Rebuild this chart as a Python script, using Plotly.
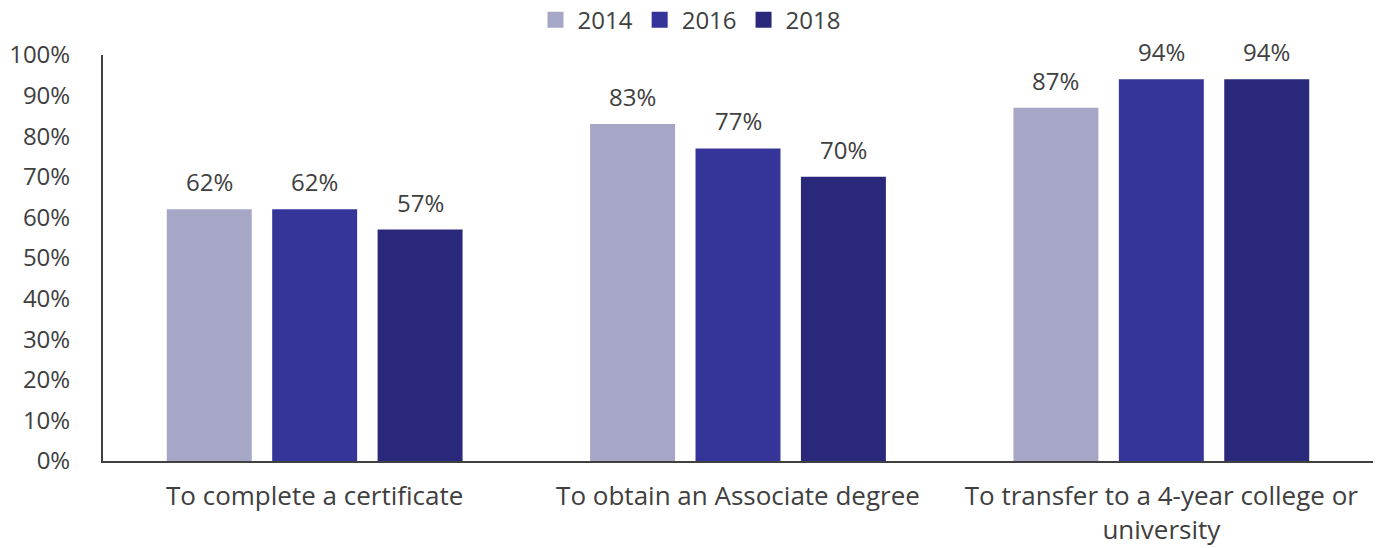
import plotly.graph_objects as go

# Survey responses by goal and year
categories = [
    "To complete a certificate",
    "To obtain an Associate degree",
    "To transfer to a 4-year college or<br>university",
]
years = ["2014", "2016", "2018"]
values_2014 = [62, 83, 87]
values_2016 = [62, 77, 94]
values_2018 = [57, 70, 94]
y_ticks = [0, 10, 20, 30, 40, 50, 60, 70, 80, 90, 100]

colors = {"2014": "#A6A6C6", "2016": "#353498", "2018": "#29287A"}
series = {"2014": values_2014, "2016": values_2016, "2018": values_2018}

text_color = "#404040"
font_family = "'Open Sans', sans-serif"
fsize = 24
bargap = 0.253
bargroupgap = 0.194

fig = go.Figure()
annotations = []
slot = (1 - bargap) / len(years)
for i, yr in enumerate(years):
    vals = series[yr]
    fig.add_trace(go.Bar(
        name=yr,
        x=list(range(len(categories))),
        y=vals,
        marker=dict(color=colors[yr], line=dict(width=0)),
        showlegend=False,
        hovertemplate="%{y}%<extra>" + yr + "</extra>",
    ))
    # legend swatch drawn as a square marker
    fig.add_trace(go.Scatter(
        name=yr,
        x=[None], y=[None],
        mode="markers",
        marker=dict(symbol="square", size=17, color=colors[yr]),
        showlegend=True,
    ))
    # value labels above each bar
    offset = (i - (len(years) - 1) / 2) * slot
    for j, v in enumerate(vals):
        annotations.append(dict(
            x=j + offset, y=v, xref="x", yref="y",
            text=f"{v}%", showarrow=False,
            yanchor="bottom", yshift=9,
            font=dict(size=fsize, color=text_color, family=font_family),
        ))

fig.update_layout(
    width=1379,
    height=548,
    barmode="group",
    bargap=bargap,
    bargroupgap=bargroupgap,
    plot_bgcolor="white",
    paper_bgcolor="white",
    margin=dict(l=103, r=6, t=55, b=87, autoexpand=False),
    font=dict(family=font_family, size=fsize, color=text_color),
    legend=dict(
        orientation="h",
        xref="container",
        x=0.5, xanchor="center",
        y=1.086, yanchor="middle",
        font=dict(size=fsize, color=text_color),
        itemwidth=34,
        traceorder="normal",
    ),
    annotations=annotations,
)

fig.update_xaxes(
    range=[-0.5, len(categories) - 0.5],
    tickvals=list(range(len(categories))),
    ticktext=categories,
    showline=True, linecolor="#404040", linewidth=2,
    showgrid=False, ticks="", tickfont=dict(size=26, color=text_color),
    ticklabelstandoff=11,
)
fig.update_yaxes(
    range=[0, 100],
    tickvals=y_ticks,
    ticktext=[f"{t}%" for t in y_ticks],
    showline=True, linecolor="#404040", linewidth=2,
    showgrid=False, zeroline=False, ticks="",
    tickfont=dict(size=fsize, color=text_color),
    ticklabelstandoff=26,
)

fig.write_html("out.html")
